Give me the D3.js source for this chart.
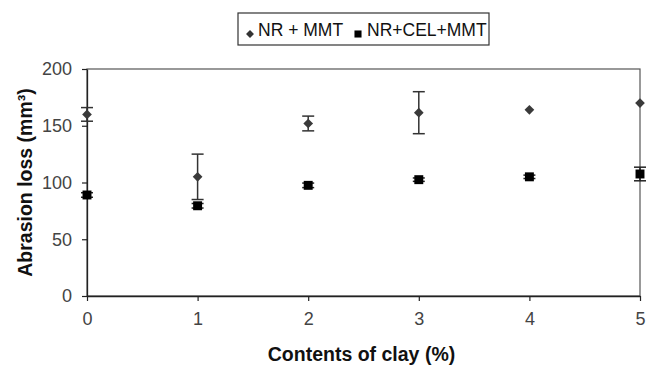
<!DOCTYPE html>
<html>
<head>
<meta charset="utf-8">
<script src="https://cdn.jsdelivr.net/npm/d3@7"></script>
<style>
  body { margin: 0; background: #fff; }
  svg text { font-family: "Liberation Sans", Arial, sans-serif; }
</style>
</head>
<body>
<div id="chart"></div>
<script>
const clayContents = [0, 1, 2, 3, 4, 5];
const nrMmt = [160, 105, 152, 161.5, 164, 170];
const nrMmtErr = [6, 20, 6.5, 18.5, 0, 0];
const nrCelMmt = [89, 79.5, 97.5, 102.5, 105, 107.5];
const nrCelMmtErr = [2, 2, 2, 1.5, 1.5, 6];
const yTicks = [0, 50, 100, 150, 200];

const W = 647, H = 366;
const margin = { top: 69, right: 7, bottom: 70, left: 87 };

const svg = d3.select("#chart").append("svg")
    .attr("width", W)
    .attr("height", H);

const x = d3.scaleLinear().domain([0, 5]).range([margin.left, W - margin.right]);
const y = d3.scaleLinear().domain([0, 200]).range([H - margin.bottom, margin.top]);

// frame
svg.append("rect")
    .attr("x", x(0)).attr("y", y(200))
    .attr("width", x(5) - x(0)).attr("height", y(0) - y(200))
    .attr("fill", "none").attr("stroke", "#555").attr("stroke-width", 1.2);

const xAxis = svg.append("g")
    .attr("transform", "translate(0," + y(0) + ")")
    .call(d3.axisBottom(x).tickValues(clayContents).tickFormat(d3.format("d"))
        .tickSize(5).tickSizeOuter(0).tickPadding(11));
const yAxis = svg.append("g")
    .attr("transform", "translate(" + x(0) + ",0)")
    .call(d3.axisLeft(y).tickValues(yTicks).tickSize(5).tickSizeOuter(0).tickPadding(10));

[xAxis, yAxis].forEach(a => {
    a.select(".domain").attr("stroke", "#222").attr("stroke-width", 1.3);
    a.selectAll(".tick line").attr("stroke", "#222").attr("stroke-width", 1.2);
    a.selectAll(".tick text")
        .attr("fill", "#444")
        .style("font-size", "18px")
        .style("font-family", "'Liberation Sans', Arial, sans-serif");
});

// error bars
function errorBars(vals, errs, color) {
    const g = svg.append("g").attr("stroke", color).attr("stroke-width", 1.5);
    clayContents.forEach((c, i) => {
        if (!errs[i]) return;
        const cx = x(c), y1 = y(vals[i] + errs[i]), y2 = y(vals[i] - errs[i]);
        g.append("line").attr("x1", cx).attr("x2", cx).attr("y1", y1).attr("y2", y2);
        g.append("line").attr("x1", cx - 6).attr("x2", cx + 6).attr("y1", y1).attr("y2", y1);
        g.append("line").attr("x1", cx - 6).attr("x2", cx + 6).attr("y1", y2).attr("y2", y2);
    });
}
errorBars(nrMmt, nrMmtErr, "#333");
errorBars(nrCelMmt, nrCelMmtErr, "#222");

const diamond = d3.symbol().type(d3.symbolDiamond2).size(60);
const square = d3.symbol().type(d3.symbolSquare).size(80);

svg.append("g").selectAll("path")
    .data(clayContents)
    .join("path")
    .attr("d", diamond)
    .attr("transform", (d, i) => "translate(" + x(d) + "," + y(nrMmt[i]) + ")")
    .attr("fill", "#3a3a3a");

svg.append("g").selectAll("path")
    .data(clayContents)
    .join("path")
    .attr("d", square)
    .attr("transform", (d, i) => "translate(" + x(d) + "," + y(nrCelMmt[i]) + ")")
    .attr("fill", "#000");

// axis titles
svg.append("text")
    .attr("x", (x(0) + x(5)) / 2 - 2)
    .attr("y", 361)
    .attr("text-anchor", "middle")
    .style("font-size", "19.5px")
    .style("font-weight", "bold")
    .attr("fill", "#111")
    .text("Contents of clay (%)");

svg.append("text")
    .attr("transform", "translate(32," + (y(0) + y(200)) / 2 + ") rotate(-90)")
    .attr("text-anchor", "middle")
    .style("font-size", "19.5px")
    .style("font-weight", "bold")
    .attr("fill", "#111")
    .text("Abrasion loss (mm³)");

// legend
const legend = svg.append("g");
legend.append("rect")
    .attr("x", 238).attr("y", 13)
    .attr("width", 251).attr("height", 32)
    .attr("fill", "#fff").attr("stroke", "#333").attr("stroke-width", 1.2);
legend.append("path")
    .attr("d", d3.symbol().type(d3.symbolDiamond2).size(40))
    .attr("transform", "translate(250,34)")
    .attr("fill", "#333");
legend.append("text")
    .attr("x", 258).attr("y", 36)
    .style("font-size", "17.5px")
    .attr("fill", "#111")
    .text("NR + MMT");
legend.append("path")
    .attr("d", d3.symbol().type(d3.symbolSquare).size(50))
    .attr("transform", "translate(358,34)")
    .attr("fill", "#000");
legend.append("text")
    .attr("x", 367).attr("y", 36)
    .style("font-size", "17.5px")
    .attr("fill", "#111")
    .text("NR+CEL+MMT");
</script>
</body>
</html>
